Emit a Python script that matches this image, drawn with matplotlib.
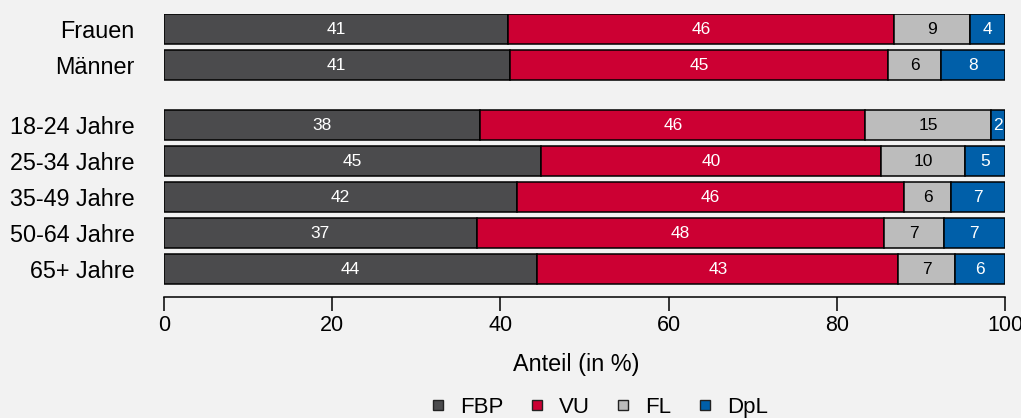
import numpy as np
import matplotlib
matplotlib.use("Agg")
import matplotlib.pyplot as plt
from matplotlib.lines import Line2D

plt.rcParams['font.family'] = ['Liberation Sans', 'DejaVu Sans']

# Data (shares in %)
groups = ["Frauen", "Männer", "18-24 Jahre", "25-34 Jahre", "35-49 Jahre", "50-64 Jahre", "65+ Jahre"]
parties = ["FBP", "VU", "FL", "DpL"]
fbp = [40.9, 41.1, 37.6, 44.8, 42.0, 37.2, 44.4]
vu = [45.9, 45.0, 45.8, 40.5, 46.0, 48.4, 42.9]
fl = [9.1, 6.3, 14.9, 9.9, 5.6, 7.1, 6.8]
dpl = [4.1, 7.6, 1.7, 4.8, 6.4, 7.3, 5.9]

# printed labels (as shown in the chart)
fbp_lab = [41, 41, 38, 45, 42, 37, 44]
vu_lab = [46, 45, 46, 40, 46, 48, 43]
fl_lab = [9, 6, 15, 10, 6, 7, 7]
dpl_lab = [4, 8, 2, 5, 7, 7, 6]

colors = ["#4b4b4d", "#cc0033", "#bcbcbc", "#005fa9"]
text_colors = ["white", "white", "black", "white"]
bg = "#f2f2f2"

# row positions: gap between gender and age groups
ypos = np.array([0, 1, 2.667, 3.667, 4.667, 5.667, 6.667])

fig = plt.figure(figsize=(10.21, 4.18), dpi=100, facecolor=bg)
ax = fig.add_axes([0.1606, 0.2895, 0.8237, 0.677])
ax.set_facecolor(bg)

series = [fbp, vu, fl, dpl]
labels = [fbp_lab, vu_lab, fl_lab, dpl_lab]
left = np.zeros(len(groups))
for vals, labs, col, tcol in zip(series, labels, colors, text_colors):
    vals = np.array(vals)
    bars = ax.barh(ypos, vals, left=left, height=0.83, color=col,
                   edgecolor="black", linewidth=1.1)
    for b, lab in zip(bars, labs):
        ax.text(b.get_x() + b.get_width() / 2, b.get_y() + b.get_height() / 2,
                str(lab), ha="center", va="center", color=tcol, fontsize=12.5)
    left += vals

ax.set_xlim(0, 100)
ax.set_ylim(7.444, -0.417)
ax.set_yticks(ypos)
ax.set_yticklabels(groups, fontsize=16.8)
ax.tick_params(axis="y", length=0, pad=21)
ax.set_xticks([0, 20, 40, 60, 80, 100])
ax.tick_params(axis="x", direction="out", length=10, width=1.1, labelsize=15.5, pad=3)
for s in ["top", "right", "left"]:
    ax.spines[s].set_visible(False)
ax.spines["bottom"].set_linewidth(1.1)
ax.set_xlabel("Anteil (in %)", fontsize=16.8, labelpad=12)
ax.xaxis.label.set_x(0.4905)

# legend
handles = [Line2D([], [], marker="s", linestyle="none", markersize=6.5,
                  markerfacecolor=c, markeredgecolor="#222222", markeredgewidth=1.0)
           for c in colors]
fig.legend(handles, parties, loc="center", bbox_to_anchor=(0.585, 0.025), ncol=4,
           frameon=False, fontsize=16, handletextpad=0.5, columnspacing=1.0,
           handlelength=1.0)

fig.savefig("out.png", dpi=100, facecolor=bg)
